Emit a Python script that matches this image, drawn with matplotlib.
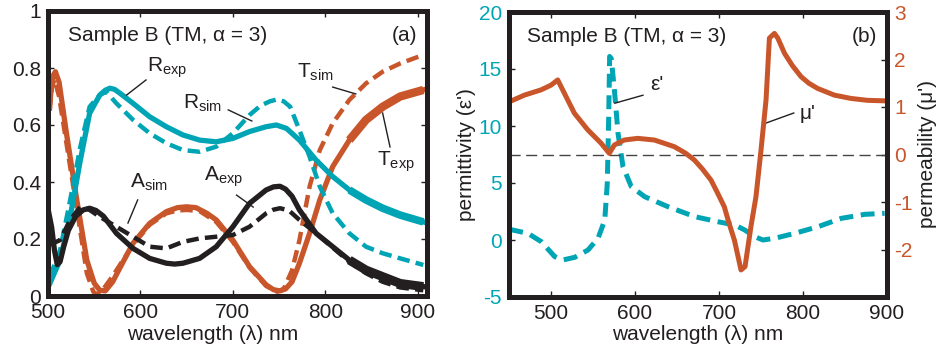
import matplotlib
matplotlib.use("Agg")
import matplotlib.pyplot as plt
from matplotlib.ticker import FormatStrFormatter

plt.rcParams['font.family'] = ['Liberation Sans', 'DejaVu Sans']
plt.rcParams['mathtext.fontset'] = 'custom'
plt.rcParams['mathtext.rm'] = 'Liberation Sans'
plt.rcParams['mathtext.it'] = 'Liberation Sans:italic'
plt.rcParams['mathtext.default'] = 'regular'
plt.rcParams['lines.scale_dashes'] = False
plt.rcParams['axes.unicode_minus'] = False

CYAN = '#00A5B5'
ORANGE = '#C9562B'
BLACK = '#231F20'
GRAY = '#444444'

# ---------------- panel (a) data ----------------
t_exp_wl = [502, 505, 508, 512, 520, 531, 542, 550, 556, 562, 570, 578, 592, 610, 628, 640,
            650, 660, 672, 682, 700, 718, 736, 744, 751, 757, 764, 772, 783, 794, 808, 826,
            844, 862, 881, 906]
t_exp = [0.68, 0.77, 0.787, 0.75, 0.57, 0.34, 0.126, 0.045, 0.02, 0.018, 0.05, 0.10, 0.185,
         0.255, 0.296, 0.31, 0.313, 0.31, 0.29, 0.267, 0.196, 0.103, 0.039, 0.022, 0.018,
         0.025, 0.05, 0.115, 0.22, 0.337, 0.454, 0.547, 0.618, 0.664, 0.70, 0.723]

t_sim_wl = [502, 504, 507, 512, 520, 531, 542, 549, 553, 560, 570, 592, 610, 628, 640, 650,
            664, 682, 700, 718, 736, 748, 755, 764, 772, 783, 794, 808, 826, 844, 862, 881, 906]
t_sim = [0.65, 0.73, 0.76, 0.70, 0.535, 0.31, 0.08, 0.015, 0.005, 0.025, 0.07, 0.18, 0.25,
         0.29, 0.30, 0.302, 0.298, 0.26, 0.19, 0.10, 0.035, 0.015, 0.025, 0.09, 0.196, 0.384,
         0.512, 0.606, 0.688, 0.746, 0.787, 0.816, 0.846]

r_exp_wl = [502, 513, 524, 535, 545, 556, 562, 567, 572, 578, 592, 610, 628, 646, 664, 682,
            700, 718, 736, 747, 758, 772, 790, 808, 826, 844, 862, 881, 906]
r_exp = [0.044, 0.126, 0.278, 0.477, 0.641, 0.705, 0.722, 0.729, 0.725, 0.711, 0.676, 0.629,
         0.594, 0.565, 0.547, 0.541, 0.553, 0.577, 0.594, 0.60, 0.588, 0.547, 0.477, 0.419,
         0.372, 0.337, 0.308, 0.284, 0.26]

r_sim_wl = [502, 513, 524, 535, 545, 556, 563, 574, 592, 610, 628, 646, 664, 682, 700, 718,
            730, 740, 748, 755, 762, 772, 783, 794, 808, 826, 844, 862, 881, 906]
r_sim = [0.068, 0.16, 0.337, 0.524, 0.664, 0.705, 0.717, 0.676, 0.618, 0.571, 0.536, 0.512,
         0.506, 0.524, 0.571, 0.635, 0.668, 0.683, 0.69, 0.683, 0.664, 0.582, 0.489, 0.384,
         0.29, 0.22, 0.173, 0.15, 0.132, 0.109]

a_exp_wl = [501, 504, 507, 510, 513, 517, 522, 530, 538, 545, 552, 560, 574, 592, 610, 628,
            637, 646, 664, 682, 700, 718, 736, 744, 751, 757, 764, 772, 790, 808, 826, 844,
            862, 881, 906]
a_exp = [0.29, 0.24, 0.16, 0.11, 0.12, 0.173, 0.23, 0.28, 0.302, 0.308, 0.30, 0.28, 0.22,
         0.167, 0.132, 0.115, 0.112, 0.115, 0.132, 0.173, 0.243, 0.325, 0.372, 0.383, 0.385,
         0.375, 0.35, 0.302, 0.22, 0.173, 0.126, 0.091, 0.068, 0.044, 0.033]

a_sim_wl = [502, 513, 524, 535, 545, 556, 574, 592, 610, 628, 646, 664, 682, 700, 718, 736,
            744, 751, 757, 762, 772, 790, 808, 826, 844, 862, 881, 906]
a_sim = [0.18, 0.196, 0.267, 0.313, 0.302, 0.278, 0.243, 0.208, 0.173, 0.167, 0.19, 0.202,
         0.208, 0.214, 0.243, 0.29, 0.303, 0.308, 0.303, 0.296, 0.267, 0.22, 0.17, 0.12,
         0.08, 0.05, 0.03, 0.02]

# ---------------- panel (b) data ----------------
eps_wl = [450.4, 472.6, 488.5, 504.4, 514.3, 528.2, 544, 556, 564, 567, 568.7, 569.8, 571.8,
          575.8, 579.8, 585.7, 595.6, 611.5, 639.3, 671, 698.8, 718.7, 730.6, 742.5, 752.4,
          766.3, 790, 818, 845.6, 873.4, 897.2]
eps_re = [0.94, 0.58, -0.15, -1.46, -1.75, -1.52, -0.88, 0.15, 1.75, 4.97, 10.8, 16.1, 15.9,
          12.9, 9.36, 6.43, 4.68, 3.8, 2.92, 2.05, 1.6, 1.32, 0.88, 0.29, 0.0, 0.15, 0.58,
          1.17, 1.9, 2.25, 2.34]

mu_wl = [450.4, 468.3, 488.1, 500, 508, 515.9, 527.8, 543.7, 559.5, 569.4, 575.4, 587.3,
         603.2, 623, 646.8, 660, 670.6, 680, 690.5, 698, 706.3, 712, 718.3, 726.2, 731, 738,
         744, 750, 756, 760, 766, 770, 778, 787, 797.6, 807, 817.5, 837.3, 857.1, 877, 897]
mu_re = [1.11, 1.25, 1.36, 1.46, 1.57, 1.29, 0.87, 0.52, 0.24, 0.025, 0.2, 0.305, 0.34,
         0.305, 0.165, 0.03, -0.115, -0.3, -0.54, -0.8, -1.1, -1.45, -1.8, -2.43, -2.36,
         -1.52, -0.89, 0.09, 1.15, 2.45, 2.55, 2.45, 2.13, 1.88, 1.64, 1.5, 1.39, 1.25, 1.18,
         1.14, 1.13]

xticks = [500, 600, 700, 800, 900]
yticks_a = [0, 0.2, 0.4, 0.6, 0.8, 1]
yticks_eps = [-5, 0, 5, 10, 15, 20]
yticks_mu = [-2, -1, 0, 1, 2, 3]

NOISY_FROM = 844  # wavelength where measured curves become noisy (drawn thicker)

fig = plt.figure(figsize=(9.38, 3.52), dpi=100)

SPINE_W = 3.6
TICK_FS = 15
LAB_FS = 15

def style_spines(ax):
    for s in ax.spines.values():
        s.set_linewidth(SPINE_W)
        s.set_color(BLACK)

def tail(wl, vals):
    idx = [i for i, w in enumerate(wl) if w >= NOISY_FROM - 20]
    return [wl[i] for i in idx], [vals[i] for i in idx]

# ---------------- panel (a) ----------------
ax1 = fig.add_axes([48/938, 1-296/352, 379/938, 285/352])
ax1.plot(t_exp_wl, t_exp, color=ORANGE, lw=3.8)
ax1.plot(*tail(t_exp_wl, t_exp), color=ORANGE, lw=6.0, solid_capstyle='butt')
ax1.plot(t_sim_wl, t_sim, color=ORANGE, lw=3.2, dashes=(9, 4.5))
ax1.plot(r_exp_wl, r_exp, color=CYAN, lw=3.8)
ax1.plot(*tail(r_exp_wl, r_exp), color=CYAN, lw=5.5, solid_capstyle='butt')
ax1.plot(r_sim_wl, r_sim, color=CYAN, lw=3.2, dashes=(9, 4.5))
ax1.plot(a_exp_wl, a_exp, color=BLACK, lw=3.8)
ax1.plot(*tail(a_exp_wl, a_exp), color=BLACK, lw=6.5, solid_capstyle='butt')
ax1.plot(a_sim_wl, a_sim, color=BLACK, lw=3.2, dashes=(9, 4.5))
ax1.set_xlim(500, 910)
ax1.set_ylim(0, 1)
ax1.set_xticks(xticks)
ax1.set_yticks(yticks_a)
ax1.yaxis.set_major_formatter(FormatStrFormatter('%g'))
ax1.tick_params(direction='in', length=4, width=1, top=True, right=True,
                labelsize=TICK_FS, colors=BLACK, pad=5)
style_spines(ax1)
ax1.set_xlabel('wavelength (λ) nm', fontsize=TICK_FS, color=BLACK)
ax1.xaxis.set_label_coords(0.435, -0.1)

ax1.text(0.052, 0.915, 'Sample B (TM, α = 3)', transform=ax1.transAxes, fontsize=TICK_FS,
         ha='left', va='center', color=BLACK)
ax1.text(0.975, 0.915, '(a)', transform=ax1.transAxes, fontsize=TICK_FS,
         ha='right', va='center', color=BLACK)

labels_a = [
    ('R$_{exp}$', (607, 0.80), (606, 0.758), (585, 0.705)),
    ('R$_{sim}$', (646, 0.677), (695, 0.653), (720.5, 0.614)),
    ('T$_{sim}$', (769, 0.786), (808, 0.733), (833, 0.709)),
    ('T$_{exp}$', (856, 0.47), (870, 0.523), (862, 0.642)),
    ('A$_{sim}$', (589, 0.40), (597, 0.337), (586.5, 0.256)),
    ('A$_{exp}$', (669, 0.418), (704, 0.354), (722, 0.312)),
]
for txt, tpos, l0, l1 in labels_a:
    ax1.text(tpos[0], tpos[1], txt, fontsize=LAB_FS, ha='left', va='center', color=BLACK)
    ax1.plot([l0[0], l1[0]], [l0[1], l1[1]], color=BLACK, lw=1.0)

# ---------------- panel (b) ----------------
ax2 = fig.add_axes([509/938, 1-297/352, 378/938, 285/352])
ax3 = ax2.twinx()
ax2.plot(eps_wl, eps_re, color=CYAN, lw=3.6, dashes=(10, 5.5), zorder=3)
ax3.axhline(0, color=GRAY, lw=1.0, dashes=(8, 4))
ax3.plot(mu_wl, mu_re, color=ORANGE, lw=3.6)
ax2.set_xlim(450, 900)
ax2.set_ylim(-5, 20)
ax3.set_ylim(-3, 3)
ax2.set_xticks(xticks)
ax2.set_yticks(yticks_eps)
ax3.set_yticks(yticks_mu)
ax2.tick_params(axis='x', direction='in', length=4, width=1, top=True,
                labelsize=TICK_FS, colors=BLACK, pad=5)
ax2.tick_params(axis='y', direction='in', length=4, width=1,
                labelsize=TICK_FS, colors=BLACK, labelcolor=CYAN, pad=5)
ax3.tick_params(axis='y', direction='in', length=4, width=1,
                labelsize=TICK_FS, colors=BLACK, labelcolor=ORANGE, pad=5)
style_spines(ax2)
style_spines(ax3)
ax2.set_xlabel('wavelength (λ) nm', fontsize=TICK_FS, color=BLACK)
ax2.xaxis.set_label_coords(0.5, -0.1)
ax2.set_ylabel("permittivity (ε')", fontsize=TICK_FS, color=BLACK, labelpad=2)
ax3.set_ylabel("permeability (μ')", fontsize=TICK_FS, color=BLACK, labelpad=4)

ax2.text(0.048, 0.915, 'Sample B (TM, α = 3)', transform=ax2.transAxes, fontsize=TICK_FS,
         ha='left', va='center', color=BLACK)
ax2.text(0.975, 0.915, '(b)', transform=ax2.transAxes, fontsize=TICK_FS,
         ha='right', va='center', color=BLACK)

labels_b = [
    ("ε'", (617.9, 13.6), (609.5, 12.7), (576, 12.0)),
    ("μ'", (796, 11.1), (789, 11.14), (756, 10.26)),
]
for txt, tpos, l0, l1 in labels_b:
    ax2.text(tpos[0], tpos[1], txt, fontsize=LAB_FS, ha='left', va='center', color=BLACK,
             zorder=5)
    ax2.plot([l0[0], l1[0]], [l0[1], l1[1]], color=BLACK, lw=1.0, zorder=5)

fig.savefig('out.png', dpi=100)
